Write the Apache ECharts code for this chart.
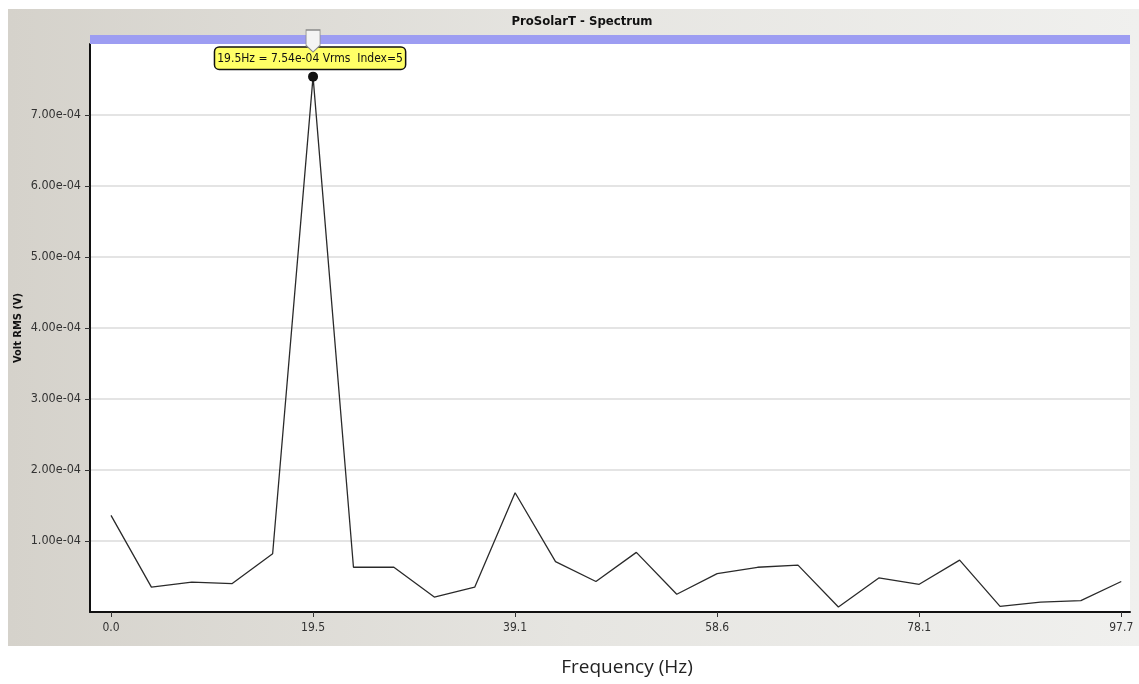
<!DOCTYPE html>
<html>
<head>
<meta charset="utf-8">
<script src="https://cdn.jsdelivr.net/npm/echarts@6/dist/echarts.min.js"></script>
<style>
html,body{margin:0;padding:0;background:#fff;}
#chart{width:1139px;height:684px;}
</style>
</head>
<body>
<div id="chart"></div>
<script>
// Frequency bins (Hz): bin width 3.90625 Hz, 26 bins
var binIndex = [0,1,2,3,4,5,6,7,8,9,10,11,12,13,14,15,16,17,18,19,20,21,22,23,24,25];
var binWidthHz = 3.90625;
// Volt RMS values (V)
var voltRms = [1.36e-4,0.35e-4,0.42e-4,0.40e-4,0.82e-4,7.54e-4,0.63e-4,0.63e-4,0.21e-4,0.35e-4,
               1.68e-4,0.71e-4,0.43e-4,0.84e-4,0.25e-4,0.54e-4,0.63e-4,0.66e-4,0.07e-4,0.48e-4,
               0.39e-4,0.73e-4,0.08e-4,0.14e-4,0.16e-4,0.43e-4];
var xTickValues = [0, 19.53125, 39.0625, 58.59375, 78.125, 97.65625];
var xTickLabels = ['0.0','19.5','39.1','58.6','78.1','97.7'];
var yTickValues = [1e-4,2e-4,3e-4,4e-4,5e-4,6e-4,7e-4];
var yTickLabels = ['1.00e-04','2.00e-04','3.00e-04','4.00e-04','5.00e-04','6.00e-04','7.00e-04'];
var markedIndex = 5;
var markerText = '19.5Hz = 7.54e-04 Vrms  Index=5';

var labelFont = 'DejaVu Sans Condensed, Liberation Sans Narrow, sans-serif';

var seriesData = binIndex.map(function(i){
  var item = {value:[i*binWidthHz, voltRms[i]]};
  if (i === markedIndex) {
    item.symbol = 'circle';
    item.symbolSize = 10;
    item.itemStyle = {color:'#111'};
    item.label = {
      show:true, position:'top', distance:3, offset:[-3,0],
      formatter: markerText,
      backgroundColor:'#ffff66', borderColor:'#111', borderWidth:1.5, borderRadius:4,
      padding:[5,2,4,2], color:'#111', fontSize:12,
      fontFamily:labelFont
    };
  }
  return item;
});

var chart = echarts.init(document.getElementById('chart'));
chart.setOption({
  animation:false,
  graphic:[
    {type:'rect', z:-10, silent:true, shape:{x:8,y:9,width:1131,height:637},
     style:{fill:new echarts.graphic.LinearGradient(0,0,1,0,[{offset:0,color:'#d5d2cb'},{offset:0.5,color:'#e6e5e1'},{offset:1,color:'#f0f0ee'}])}},
    {type:'rect', z:100, silent:true, shape:{x:90,y:35,width:1040,height:9},
     style:{fill:'#9d9df2'}}
  ],
  title:{
    text:'ProSolarT - Spectrum', left:577, top:10, textAlign:'center',
    textStyle:{fontSize:13, fontWeight:'bold', color:'#111', fontFamily:labelFont}
  },
  grid:{left:90, right:9, top:44, bottom:72, show:true, backgroundColor:'#fff', borderWidth:0, outerBoundsMode:'none'},
  xAxis:{
    type:'value', min:-2.03, max:98.5,
    name:'Frequency (Hz)', nameLocation:'middle', nameGap:46, nameMoveOverlap:false,
    nameTextStyle:{fontSize:19, color:'#222', fontFamily:'Open Sans, Noto Sans, sans-serif', padding:[0,0,0,34]},
    axisLine:{show:true, onZero:false, lineStyle:{color:'#111', width:2}},
    axisTick:{show:true, length:5, customValues:xTickValues, lineStyle:{color:'#333'}},
    axisLabel:{customValues:xTickValues, margin:10, fontSize:12, color:'#333', fontFamily:labelFont,
      formatter:function(v){ var k = xTickValues.indexOf(v); return k>=0 ? xTickLabels[k] : ''; }},
    splitLine:{show:false}
  },
  yAxis:{
    type:'value', min:0, max:8e-4, interval:1e-4,
    name:'Volt RMS (V)', nameLocation:'middle', nameGap:66, nameRotate:90, nameMoveOverlap:false,
    nameTextStyle:{fontSize:11, fontWeight:'bold', color:'#111', fontFamily:labelFont},
    axisLine:{show:true, onZero:false, lineStyle:{color:'#111', width:2}},
    axisTick:{show:true, length:5, customValues:yTickValues, lineStyle:{color:'#333'}},
    axisLabel:{customValues:yTickValues, margin:9, fontSize:12.5, color:'#333', fontFamily:labelFont,
      formatter:function(v){ for (var k=0;k<yTickValues.length;k++){ if (Math.abs(yTickValues[k]-v)<1e-9) return yTickLabels[k]; } return ''; }},
    splitLine:{show:true, lineStyle:{color:'#e4e4e4', width:2}}
  },
  series:[{
    type:'line', data:seriesData, symbol:'none', showSymbol:true,
    lineStyle:{color:'#2a2a2a', width:1.3},
    markPoint:{
      symbol:'path://M0,0 L10,0 L10,14 L5,20 L0,14 Z',
      symbolSize:[14,22], symbolKeepAspect:false,
      itemStyle:{color:'#f4f4f4', borderColor:'#8a8a8a', borderWidth:1},
      label:{show:false},
      z:200,
      data:[{coord:[markedIndex*binWidthHz, 8e-4], symbolOffset:[0,-3]}]
    }
  }]
});
</script>
</body>
</html>
